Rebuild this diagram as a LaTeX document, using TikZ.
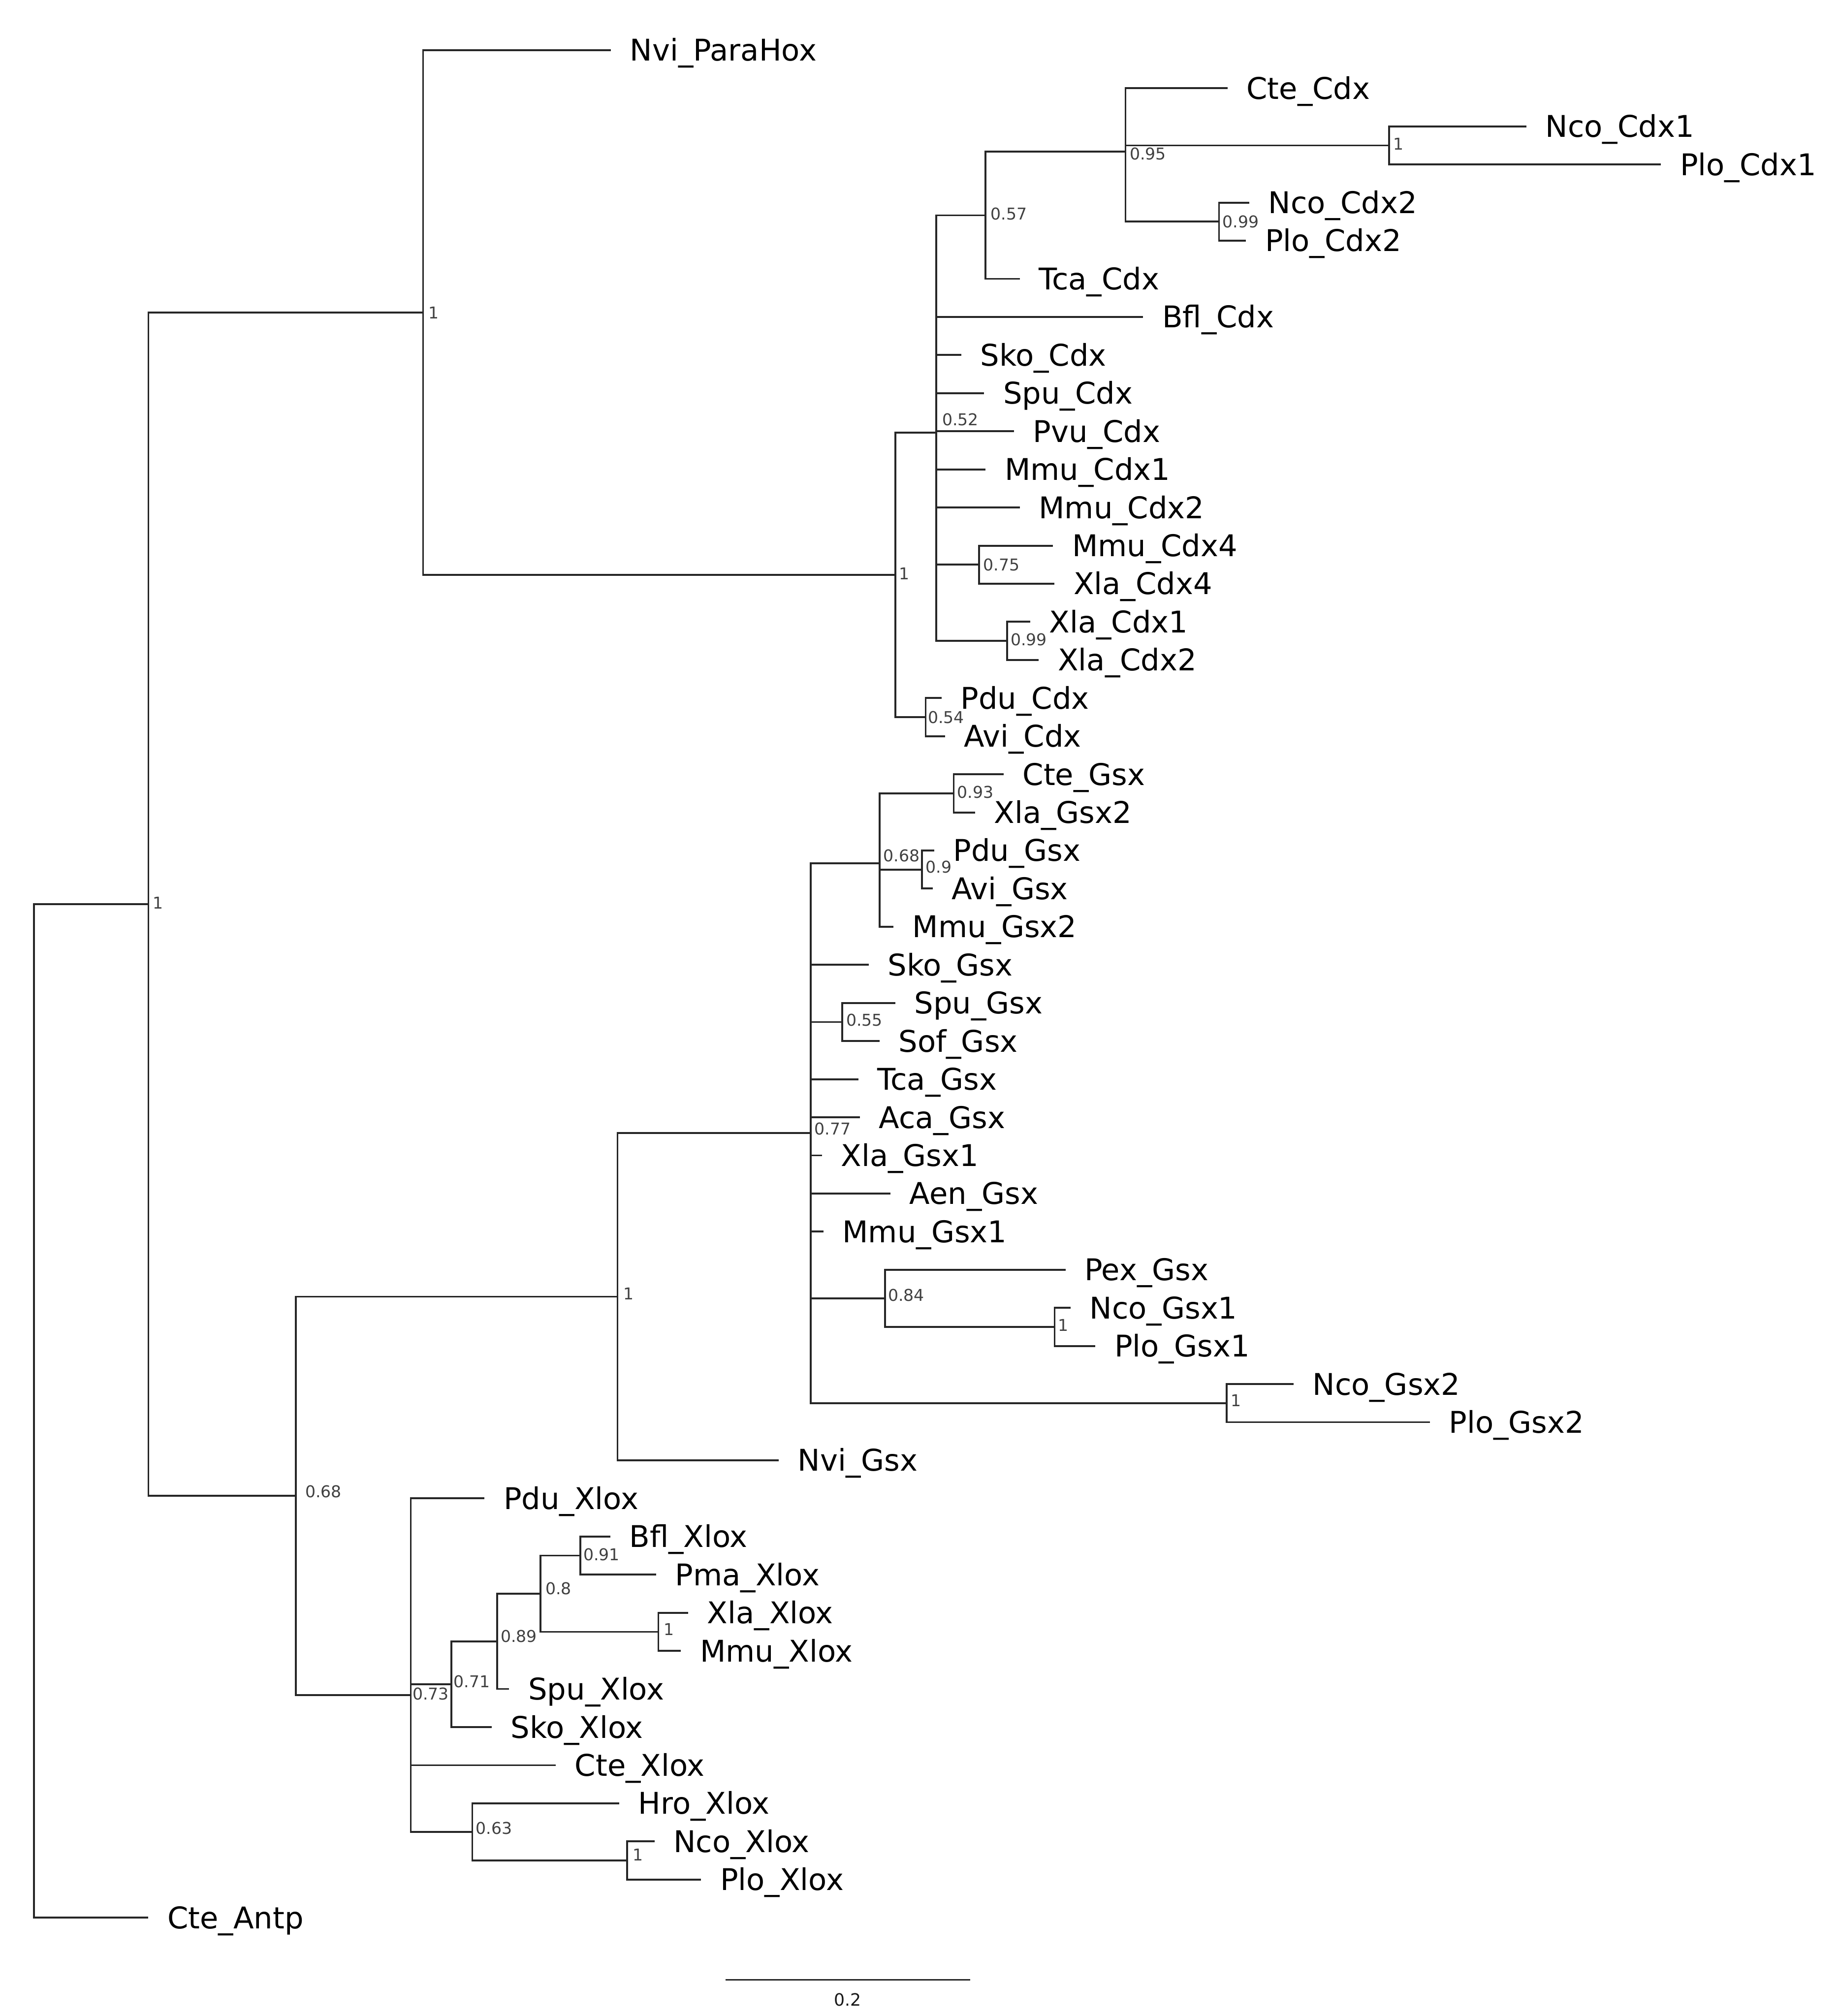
\documentclass[tikz,border=0pt]{standalone}
\usepackage{fontspec}
\setmainfont{DejaVu Sans}
\usetikzlibrary{calc}
\newcommand\mkleaf[4]{%
  \coordinate (#1) at (#2,#3);
  \node[leaflab] (#1-lab) at ($(#1)+(14.6,8.4)$) {#4};}
\newcommand\mkinode[6]{%
  \coordinate (#1) at (#2,#3);
  \node[suplab] (#1-lab) at ($(#1)+(#5,#6)$) {#4};}
\newcommand\mkbr[2]{\foreach \kid in {#2}{\draw[branch] (#1) |- (\kid);}}
\begin{document}
\begin{tikzpicture}[x=0.703pt,y=-0.703pt,
  branch/.style={draw=black!85, line width=1.0pt, line join=miter},
  leaflab/.style={anchor=base west, inner sep=0pt, font=\fontsize{16.35}{19}\selectfont, text=black},
  suplab/.style={anchor=west, inner sep=0pt, font=\fontsize{8.9}{10}\selectfont, text=black!75},
  scalelab/.style={anchor=base, inner sep=0pt, font=\fontsize{9.3}{11}\selectfont, text=black!90}]
\useasboundingbox (0,0) rectangle (1430,1568);

% ---------- leaves ----------
\mkleaf{NviParaHox}{475.1}{39.0}{Nvi\_ParaHox}
\mkleaf{CteCdx}{954.6}{68.6}{Cte\_Cdx}
\mkleaf{NcoCdxA}{1187}{98.3}{Nco\_Cdx1}
\mkleaf{PloCdxA}{1291.7}{127.9}{Plo\_Cdx1}
\mkleaf{NcoCdxB}{971.5}{157.6}{Nco\_Cdx2}
\mkleaf{PloCdxB}{969}{187.2}{Plo\_Cdx2}
\mkleaf{TcaCdx}{793}{216.9}{Tca\_Cdx}
\mkleaf{BflCdx}{889}{246.5}{Bfl\_Cdx}
\mkleaf{SkoCdx}{747.5}{276.1}{Sko\_Cdx}
\mkleaf{SpuCdx}{765.4}{305.8}{Spu\_Cdx}
\mkleaf{PvuCdx}{788.5}{335.4}{Pvu\_Cdx}
\mkleaf{MmuCdxA}{766.5}{365.1}{Mmu\_Cdx1}
\mkleaf{MmuCdxB}{793}{394.7}{Mmu\_Cdx2}
\mkleaf{MmuCdxD}{818.9}{424.4}{Mmu\_Cdx4}
\mkleaf{XlaCdxD}{820.1}{454.0}{Xla\_Cdx4}
\mkleaf{XlaCdxA}{801.2}{483.6}{Xla\_Cdx1}
\mkleaf{XlaCdxB}{807.9}{513.3}{Xla\_Cdx2}
\mkleaf{PduCdx}{732.2}{542.9}{Pdu\_Cdx}
\mkleaf{AviCdx}{734.8}{572.6}{Avi\_Cdx}
\mkleaf{CteGsx}{780.5}{602.2}{Cte\_Gsx}
\mkleaf{XlaGsxB}{758.2}{631.9}{Xla\_Gsx2}
\mkleaf{PduGsx}{726.5}{661.5}{Pdu\_Gsx}
\mkleaf{AviGsx}{725.4}{691.1}{Avi\_Gsx}
\mkleaf{MmuGsxB}{694.7}{720.8}{Mmu\_Gsx2}
\mkleaf{SkoGsx}{675.5}{750.4}{Sko\_Gsx}
\mkleaf{SpuGsx}{696.3}{780.1}{Spu\_Gsx}
\mkleaf{SofGsx}{683.9}{809.7}{Sof\_Gsx}
\mkleaf{TcaGsx}{667.5}{839.4}{Tca\_Gsx}
\mkleaf{AcaGsx}{668.7}{869.0}{Aca\_Gsx}
\mkleaf{XlaGsxA}{639.2}{898.6}{Xla\_Gsx1}
\mkleaf{AenGsx}{692.5}{928.3}{Aen\_Gsx}
\mkleaf{MmuGsxA}{640.3}{957.9}{Mmu\_Gsx1}
\mkleaf{PexGsx}{828.6}{987.6}{Pex\_Gsx}
\mkleaf{NcoGsxA}{832.6}{1017.2}{Nco\_Gsx1}
\mkleaf{PloGsxA}{851.9}{1046.9}{Plo\_Gsx1}
\mkleaf{NcoGsxB}{1005.9}{1076.5}{Nco\_Gsx2}
\mkleaf{PloGsxB}{1112}{1106.1}{Plo\_Gsx2}
\mkleaf{NviGsx}{605.5}{1135.8}{Nvi\_Gsx}
\mkleaf{PduXlox}{376.8}{1165.4}{Pdu\_Xlox}
\mkleaf{BflXlox}{474.6}{1195.1}{Bfl\_Xlox}
\mkleaf{PmaXlox}{510.3}{1224.7}{Pma\_Xlox}
\mkleaf{XlaXlox}{535.2}{1254.4}{Xla\_Xlox}
\mkleaf{MmuXlox}{529.5}{1284.0}{Mmu\_Xlox}
\mkleaf{SpuXlox}{396}{1313.6}{Spu\_Xlox}
\mkleaf{SkoXlox}{382.3}{1343.3}{Sko\_Xlox}
\mkleaf{CteXlox}{432.2}{1372.9}{Cte\_Xlox}
\mkleaf{HroXlox}{481.6}{1402.6}{Hro\_Xlox}
\mkleaf{NcoXlox}{509}{1432.2}{Nco\_Xlox}
\mkleaf{PloXlox}{545.2}{1461.9}{Plo\_Xlox}
\mkleaf{CteAntp}{115.4}{1491.5}{Cte\_Antp}

% ---------- internal nodes with support values ----------
\coordinate (root) at (26.3,1097.4);
\mkinode{nA}{115.4}{703.3}{1}{3}{-1}
\mkinode{nPH}{329.0}{243.1}{1}{4}{0}
\mkinode{nCdx}{696.4}{447.1}{1}{2.5}{-1}
\mkinode{nP52}{728.0}{336.5}{0.52}{4.5}{-10}
\mkinode{n057}{766.4}{167.5}{0.57}{3.8}{-1}
\mkinode{n095}{875.3}{118.0}{0.95}{3}{1.5}
\mkinode{n1c}{1080.3}{113.1}{1}{3}{-1}
\mkinode{n099a}{948.0}{172.4}{0.99}{2.5}{0}
\mkinode{n075}{761.3}{439.2}{0.75}{3.2}{0}
\mkinode{n099b}{783.2}{498.5}{0.99}{2.5}{-1}
\mkinode{n054}{719.9}{557.8}{0.54}{1.5}{0}
\mkinode{n068}{230.2}{1163.4}{0.68}{7}{-3.5}
\mkinode{n1gsx}{480.2}{1008.5}{1}{4.5}{-2.5}
\mkinode{n077}{630.6}{881.1}{0.77}{2.5}{-3}
\mkinode{n068g}{684.1}{671.4}{0.68}{2.6}{-6}
\mkinode{n093}{741.7}{617.0}{0.93}{2.5}{-1}
\mkinode{n09}{717.0}{676.3}{0.9}{2.6}{-2}
\mkinode{n055}{655.1}{794.9}{0.55}{2.8}{-1.5}
\mkinode{n084}{688.4}{1009.8}{0.84}{2}{-2.5}
\mkinode{n1g1}{820.2}{1032.0}{1}{2.5}{-1.5}
\mkinode{n1g2}{954.0}{1091.3}{1}{3}{-2}
\mkinode{n073}{319.4}{1318.3}{0.73}{1.2}{-1}
\mkinode{n071}{351.1}{1310.0}{0.71}{1.4}{-2}
\mkinode{n089}{386.5}{1276.6}{0.89}{2.6}{-4}
\mkinode{n08}{420.2}{1239.6}{0.8}{3.8}{-4}
\mkinode{n091}{451.4}{1209.9}{0.91}{2}{-1}
\mkinode{n1x}{512.0}{1269.2}{1}{4}{-2}
\mkinode{n063}{367.3}{1424.9}{0.63}{2.4}{-3}
\mkinode{n1x2}{487.6}{1447.1}{1}{4.2}{-4.5}

% ---------- branches ----------
\mkbr{root}{nA,CteAntp}
\mkbr{nA}{nPH,n068}
\mkbr{nPH}{NviParaHox,nCdx}
\mkbr{nCdx}{nP52,n054}
\mkbr{nP52}{n057,BflCdx,SkoCdx,SpuCdx,PvuCdx,MmuCdxA,MmuCdxB,n075,n099b}
\mkbr{n057}{n095,TcaCdx}
\mkbr{n095}{CteCdx,n1c,n099a}
\mkbr{n1c}{NcoCdxA,PloCdxA}
\mkbr{n099a}{NcoCdxB,PloCdxB}
\mkbr{n075}{MmuCdxD,XlaCdxD}
\mkbr{n099b}{XlaCdxA,XlaCdxB}
\mkbr{n054}{PduCdx,AviCdx}
\mkbr{n068}{n1gsx,n073}
\mkbr{n1gsx}{n077,NviGsx}
\mkbr{n077}{n068g,SkoGsx,n055,TcaGsx,AcaGsx,XlaGsxA,AenGsx,MmuGsxA,n084,n1g2}
\mkbr{n068g}{n093,n09,MmuGsxB}
\mkbr{n093}{CteGsx,XlaGsxB}
\mkbr{n09}{PduGsx,AviGsx}
\mkbr{n055}{SpuGsx,SofGsx}
\mkbr{n084}{PexGsx,n1g1}
\mkbr{n1g1}{NcoGsxA,PloGsxA}
\mkbr{n1g2}{NcoGsxB,PloGsxB}
\mkbr{n073}{PduXlox,n071,CteXlox,n063}
\mkbr{n071}{n089,SkoXlox}
\mkbr{n089}{n08,SpuXlox}
\mkbr{n08}{n091,n1x}
\mkbr{n091}{BflXlox,PmaXlox}
\mkbr{n1x}{XlaXlox,MmuXlox}
\mkbr{n063}{HroXlox,n1x2}
\mkbr{n1x2}{NcoXlox,PloXlox}

% ---------- scale bar ----------
\coordinate (sbL) at (564.1,1539.8);
\coordinate (sbR) at (754.6,1539.8);
\draw[branch] (sbL) -- (sbR);
\node[scalelab] (sblab) at ($(sbL)!0.5!(sbR)+(0,20.2)$) {0.2};
\end{tikzpicture}
\end{document}
